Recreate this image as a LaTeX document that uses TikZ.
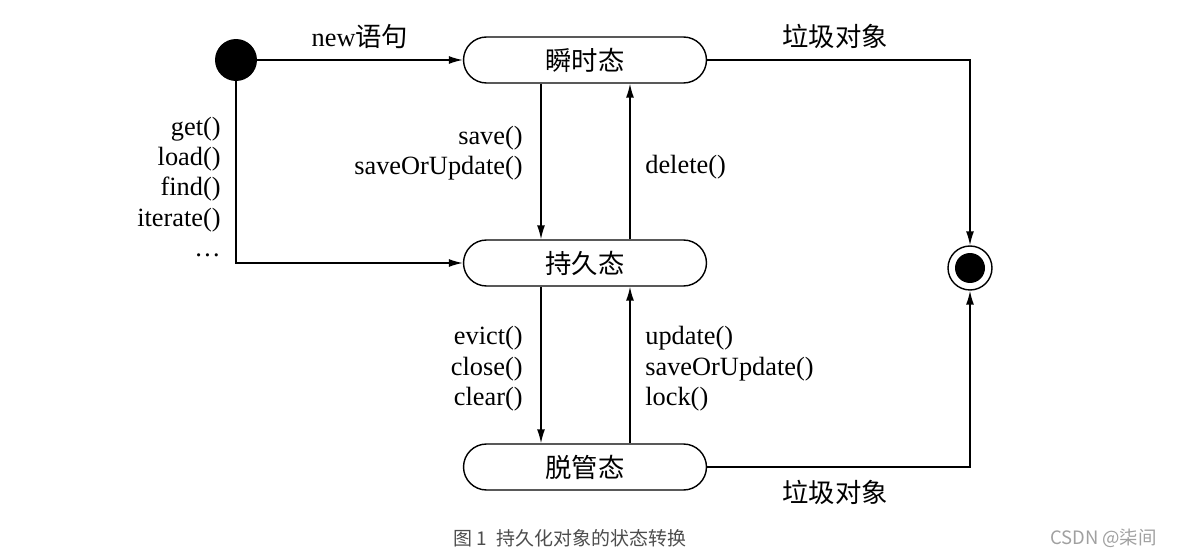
\documentclass[tikz,border=0pt]{standalone}
\usepackage{fontspec}
\setmainfont{Liberation Serif}
\newfontfamily\cjk{Noto Sans CJK SC}
\usepackage{tikz}
\usetikzlibrary{arrows.meta,positioning}
\definecolor{capgray}{HTML}{4D4D4D}
\definecolor{markgray}{HTML}{A0A0A0}
\tikzset{
  state/.style={draw,line width=0.8pt,rounded corners=0.46cm,minimum width=4.86cm,
    minimum height=0.92cm,inner sep=0pt,font=\cjk\fontsize{15}{18}\selectfont},
  flow/.style={line width=0.8pt,-{Latex[length=0.28cm,width=0.16cm]}},
  lbl/.style={inner sep=0pt,font=\fontsize{15}{17.3}\selectfont},
}
\begin{document}
\begin{tikzpicture}[x=0.02cm,y=-0.02cm]
  \useasboundingbox (0,0) rectangle (1177,557);
  \node[circle,fill=black,minimum size=0.84cm,inner sep=0pt] (init) at (236,60) {};
  \node[state] (trans) at (585,60) {瞬时态};
  \node[state] (pers) at (585,263) {持久态};
  \node[state] (det) at (585,467) {脱管态};
  \node[circle,draw,line width=0.8pt,minimum size=0.88cm,inner sep=0pt,
    path picture={\fill (path picture bounding box.center) circle (0.3cm);}] (fin) at (970,268) {};

  \draw[flow] (init) -- (trans.west);
  \draw[flow] (init.south) |- (pers.west);
  \draw[flow] ([xshift=-0.88cm]trans.south) -- ([xshift=-0.88cm]pers.north);
  \draw[flow] ([xshift=0.9cm]pers.north) -- ([xshift=0.9cm]trans.south);
  \draw[flow] ([xshift=-0.88cm]pers.south) -- ([xshift=-0.88cm]det.north);
  \draw[flow] ([xshift=0.9cm]det.north) -- ([xshift=0.9cm]pers.south);
  \draw[flow] (trans.east) -| (fin.north);
  \draw[flow] (det.east) -| (fin.south);

  \node[lbl] (new) at (360,37) {new{\cjk 语句}};
  \node[lbl,align=right,anchor=east] (load) at (221,187) {get()\\load()\\find()\\iterate()\\\dots};
  \node[lbl,align=right,anchor=east] (save) at (523,153) {save()\\saveOrUpdate()};
  \node[lbl,align=left,anchor=west] (del) at (645,167) {delete()};
  \node[lbl,align=right,anchor=east] (evict) at (523,369) {evict()\\close()\\clear()};
  \node[lbl,align=left,anchor=west] (upd) at (645,369) {update()\\saveOrUpdate()\\lock()};
  \node[lbl,font=\cjk\fontsize{15}{18}\selectfont] (gc1) at (835,36) {垃圾对象};
  \node[lbl,font=\cjk\fontsize{15}{18}\selectfont] (gc2) at (835,492) {垃圾对象};

  \node[capgray,font=\cjk\fontsize{10.8}{13}\selectfont] (cap) at (570,538) {图 1\enspace 持久化对象的状态转换};
  \node[markgray,anchor=east,font=\cjk\fontsize{10.5}{13}\selectfont] (mark) at (1163,538) {CSDN @柒间};
\end{tikzpicture}
\end{document}
